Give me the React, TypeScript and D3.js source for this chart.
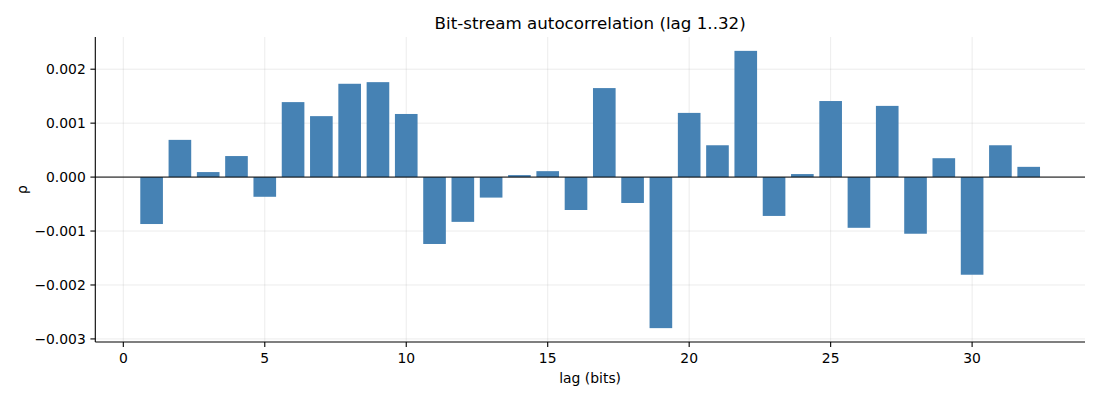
import React from 'react';
import * as d3 from 'd3';

const lags: number[] = d3.range(1, 33);
const rho: number[] = [
  -0.00087, 0.00069, 0.000093, 0.00039, -0.000365, 0.00139, 0.00113, 0.00173,
  0.00176, 0.00117, -0.00124, -0.00083, -0.00038, 0.000037, 0.00011, -0.00061,
  0.00165, -0.00048, -0.0028, 0.00119, 0.00059, 0.00234, -0.00072, 0.000056,
  0.00141, -0.00094, 0.00132, -0.00105, 0.00035, -0.00181, 0.00059, 0.00019,
];
const xTicks: number[] = [0, 5, 10, 15, 20, 25, 30];
const yTicks: number[] = [-0.003, -0.002, -0.001, 0, 0.001, 0.002];

const width = 1100;
const height = 400;
const margin = { top: 37, right: 15, bottom: 58, left: 95.3 };
const font = 'DejaVu Sans, sans-serif';

const App = () => {
  const barWidth = 0.8;
  const x0 = lags[0] - barWidth / 2;
  const x1 = lags[lags.length - 1] + barWidth / 2;
  const xPad = (x1 - x0) * 0.05;
  const x = d3
    .scaleLinear()
    .domain([x0 - xPad, x1 + xPad])
    .range([margin.left, width - margin.right]);

  const yMin = Math.min(0, d3.min(rho) ?? 0);
  const yMax = Math.max(0, d3.max(rho) ?? 0);
  const yPad = (yMax - yMin) * 0.05;
  const y = d3
    .scaleLinear()
    .domain([yMin - yPad, yMax + yPad])
    .range([height - margin.bottom, margin.top]);

  const fmt = (v: number) => {
    const s = d3.format('.3f')(Math.abs(v));
    return v < -1e-12 ? `\u2212${s}` : s;
  };

  const left = margin.left;
  const right = width - margin.right;
  const top = margin.top;
  const bottom = height - margin.bottom;

  return (
    <svg
      width={width}
      height={height}
      style={{ position: 'absolute', left: 0, top: 0, background: '#fff' }}
      fontFamily={font}
    >
      {/* grid */}
      <g stroke="#b0b0b0" strokeOpacity={0.3} strokeWidth={0.8}>
        {xTicks.map((t) => (
          <line key={`gx${t}`} x1={x(t)} x2={x(t)} y1={top} y2={bottom} />
        ))}
        {yTicks.map((t) => (
          <line key={`gy${t}`} x1={left} x2={right} y1={y(t)} y2={y(t)} />
        ))}
      </g>

      {/* bars */}
      <g fill="#4682b4">
        {lags.map((lag, i) => (
          <rect
            key={lag}
            x={x(lag - barWidth / 2)}
            width={x(lag + barWidth / 2) - x(lag - barWidth / 2)}
            y={y(Math.max(0, rho[i]))}
            height={Math.abs(y(rho[i]) - y(0))}
          />
        ))}
      </g>

      {/* zero line */}
      <line x1={left} x2={right} y1={y(0)} y2={y(0)} stroke="#000" strokeWidth={1} />

      {/* spines */}
      <line x1={left} x2={left} y1={top} y2={bottom} stroke="#000" strokeWidth={1.1} />
      <line x1={left} x2={right} y1={bottom} y2={bottom} stroke="#000" strokeWidth={1.1} />

      {/* x ticks */}
      <g fontSize={13.9} fill="#000">
        {xTicks.map((t) => (
          <g key={`xt${t}`}>
            <line x1={x(t)} x2={x(t)} y1={bottom} y2={bottom + 4.9} stroke="#000" strokeWidth={1.1} />
            <text x={x(t)} y={bottom + 20.5} textAnchor="middle">
              {t}
            </text>
          </g>
        ))}
      </g>

      {/* y ticks */}
      <g fontSize={13.9} fill="#000">
        {yTicks.map((t) => (
          <g key={`yt${t}`}>
            <line x1={left - 4.9} x2={left} y1={y(t)} y2={y(t)} stroke="#000" strokeWidth={1.1} />
            <text x={left - 9.5} y={y(t)} dy="0.36em" textAnchor="end">
              {fmt(t)}
            </text>
          </g>
        ))}
      </g>

      {/* labels */}
      <text x={(left + right) / 2} y={383} textAnchor="middle" fontSize={13.9}>
        lag (bits)
      </text>
      <text
        transform={`translate(27,${(top + bottom) / 2}) rotate(-90)`}
        textAnchor="middle"
        fontSize={13.9}
      >
        ρ
      </text>
      <text x={(left + right) / 2} y={29} textAnchor="middle" fontSize={16.7}>
        Bit-stream autocorrelation (lag 1..32)
      </text>
    </svg>
  );
};

export default App;
